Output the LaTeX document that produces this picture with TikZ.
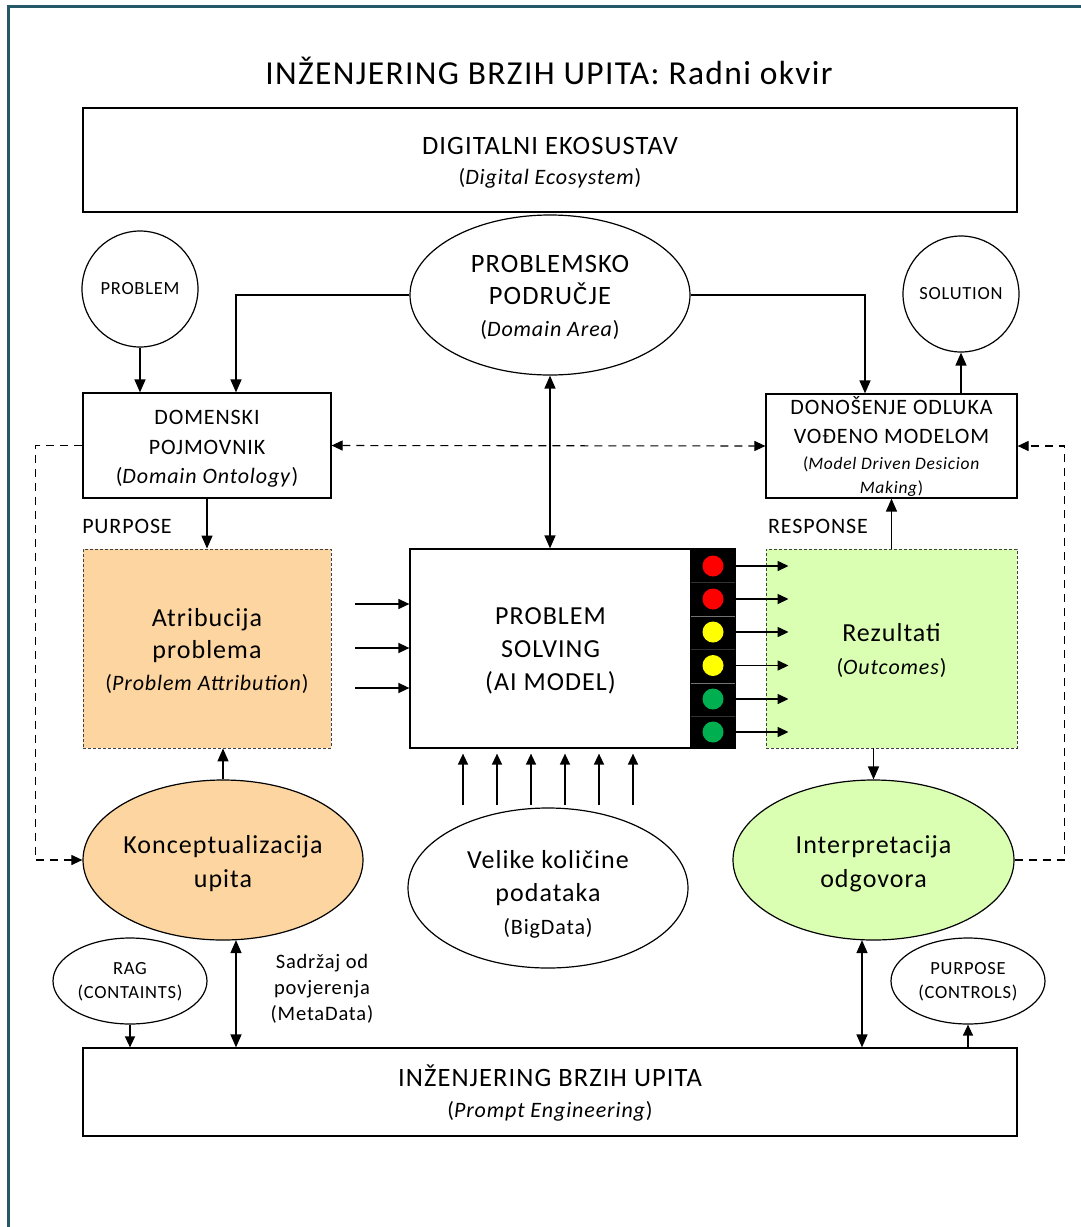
\documentclass[tikz,border=0pt]{standalone}
\usepackage{fontspec}
\setmainfont{Carlito}[LetterSpace=4]
\usetikzlibrary{arrows.meta,shapes.geometric,calc}

\definecolor{framecol}{HTML}{25596A}
\definecolor{peach}{HTML}{FCD5A0}
\definecolor{mint}{HTML}{DAFFB3}
\definecolor{lampred}{HTML}{FF0000}
\definecolor{lampyellow}{HTML}{FFFF00}
\definecolor{lampgreen}{HTML}{00B050}

\newcommand{\subline}[1]{{\fontsize{22}{24}\selectfont#1}}

\tikzset{
  box/.style={draw, line width=1.2pt, rectangle, inner sep=0pt},
  dashbox/.style={draw=black!75, line width=0.9pt, dash pattern=on 3pt off 2pt, rectangle, inner sep=0pt},
  oval/.style={draw, line width=1.2pt, ellipse, inner sep=0pt},
  roundel/.style={draw, line width=1.2pt, circle, inner sep=0pt, align=center},
  lamp/.style={circle, inner sep=0pt, minimum size=21pt},
  tip/.tip={Triangle[length=13pt,width=11pt]},
  smalltip/.tip={Triangle[length=11pt,width=10pt]},
  link/.style={line width=1.4pt, -tip},
  dlink/.style={line width=1.4pt, tip-tip},
  dashlink/.style={line width=1.1pt, dash pattern=on 8pt off 6pt, -smalltip},
  lamplink/.style={line width=1.4pt, -smalltip},
  fA/.style={font=\fontsize{26.5}{32}\selectfont},
  fB/.style={font=\fontsize{22}{29.5}\selectfont},
  fC/.style={font=\fontsize{26}{33}\selectfont},
  fS/.style={font=\fontsize{18.5}{24}\selectfont},
  label/.style={inner sep=0pt, align=center},
}

\begin{document}
\begin{tikzpicture}[x=1pt,y=-1pt]
\useasboundingbox (0,0) rectangle (1081,1227);

% outer frame
\begin{scope}
  \clip (0,0) rectangle (1081,1227);
  \draw[framecol, line width=3pt] (8.5,1240) -- (8.5,6.5) -- (1095,6.5);
\end{scope}

% title
\node[label, font=\fontsize{33.5}{36}\selectfont] (title) at (549,71) {INŽENJERING BRZIH UPITA: Radni okvir};

% top band
\node[box, minimum width=934pt, minimum height=104pt] (eco) at (550,160) {};
\node[label, font=\fontsize{26.5}{30}\selectfont] (eco-t) at ($(eco)+(0,3)$)
  {DIGITALNI EKOSUSTAV\\\subline{(\textit{Digital Ecosystem})}};

% circles and central ellipse
\node[roundel, minimum size=116pt, font=\fontsize{18.5}{20}\selectfont] (prob) at (140,289) {PROBLEM};
\node[roundel, minimum size=116pt, font=\fontsize{18.5}{20}\selectfont] (sol) at (961,294) {SOLUTION};
\node[oval, minimum width=280pt, minimum height=160pt] (pa) at (550,295) {};
\node[label, fA] (pa-t) at ($(pa)+(0,2)$)
  {PROBLEMSKO\\PODRUČJE\\\subline{(\textit{Domain Area})}};

% upper boxes
\node[box, minimum width=248pt, minimum height=105pt] (dom) at (207,445.5) {};
\node[label, fB] (dom-t) at ($(dom)+(0,3.5)$)
  {DOMENSKI\\POJMOVNIK\\(\textit{Domain Ontology})};
\node[box, minimum width=251pt, minimum height=104pt] (don) at (891.5,446) {};
\node[label, font=\fontsize{22}{24}\selectfont] (don-t) at ($(don)+(0,0.5)$)
  {DONOŠENJE ODLUKA\\[5pt]VOĐENO MODELOM\\[2pt]{\fontsize{17.5}{20}\selectfont(\textit{Model Driven Desicion}}\\{\fontsize{17.5}{20}\selectfont\textit{Making})}};

\node[label, font=\fontsize{22}{24}\selectfont] (purpose) at (127,526) {PURPOSE};
\node[label, font=\fontsize{22}{24}\selectfont] (response) at (818,526) {RESPONSE};

% middle row
\node[dashbox, fill=peach, minimum width=248pt, minimum height=199pt] (atr) at (207,648.5) {};
\node[label, font=\fontsize{26}{32}\selectfont] (atr-t) at ($(atr)+(0,2.5)$)
  {Atribucija\\problema\\\subline{(\textit{Problem Attribution})}};
\node[box, minimum width=281pt, minimum height=199pt] (ps) at (550.5,648.5) {};
\node[label, fC] (ps-t) at ($(ps)+(0,2.5)$)
  {PROBLEM\\SOLVING\\(AI MODEL)};
\node[box, fill=black, minimum width=44pt, minimum height=199pt] (lights) at (713,648.5) {};
\node[dashbox, fill=mint, minimum width=251pt, minimum height=199pt] (rez) at (891.5,648.5) {};
\node[label, fC] (rez-t) at ($(rez)+(0,2)$)
  {Rezultati\\\subline{(\textit{Outcomes})}};

% separators in the lamp strip
\foreach \yy/\cc in {582.5/black!80, 616/black!55, 649/black!80, 683/black!55, 716/black!80}
  \draw[\cc, line width=0.6pt] (691,\yy) -- (735,\yy);

% lamps
\node[lamp, fill=lampred]    (l1) at (713,566) {};
\node[lamp, fill=lampred]    (l2) at (713,599) {};
\node[lamp, fill=lampyellow] (l3) at (713,632) {};
\node[lamp, fill=lampyellow] (l4) at (713,665.5) {};
\node[lamp, fill=lampgreen]  (l5) at (713,699) {};
\node[lamp, fill=lampgreen]  (l6) at (713,732) {};

\foreach \n in {l1,l2,l3,l4,l5,l6}
  \draw[lamplink] (lights.east |- \n) -- ($(rez.west |- \n)+(23,0)$);

% inputs into the model
\coordinate (in1) at (355,604);
\coordinate (in2) at (355,648);
\coordinate (in3) at (355,688);
\foreach \c in {in1,in2,in3}
  \draw[lamplink] (\c) -- (ps.west |- \c);

\foreach \xx [count=\i] in {463,497,531,565,599,633}
  \coordinate (d\i) at (\xx,805);
\foreach \i in {1,...,6}
  \draw[lamplink] (d\i) -- ($(d\i |- ps.south)+(0,5)$);

% lower ellipses
\node[oval, fill=peach, minimum width=280pt, minimum height=160pt] (konc) at (223,860) {};
\node[label, font=\fontsize{26}{34}\selectfont] (konc-t) at ($(konc)+(0,3.5)$)
  {Konceptualizacija\\upita};
\node[oval, minimum width=280pt, minimum height=160pt] (big) at (548,888) {};
\node[label, fC] (big-t) at ($(big)+(0,6)$)
  {Velike količine\\podataka\\{\fontsize{22}{24}\selectfont(BigData)}};
\node[oval, fill=mint, minimum width=281pt, minimum height=160pt] (interp) at (873.5,860) {};
\node[label, font=\fontsize{26}{34}\selectfont] (interp-t) at ($(interp)+(0,3.5)$)
  {Interpretacija\\odgovora};

\node[oval, minimum width=154pt, minimum height=86pt] (rag) at (130,981) {};
\node[label, fS] (rag-t) at ($(rag)+(0,1)$) {RAG\\(CONTAINTS)};
\node[oval, minimum width=154pt, minimum height=86pt] (pc) at (968,981) {};
\node[label, fS] (pc-t) at ($(pc)+(0,1)$) {PURPOSE\\(CONTROLS)};

\node[label, font=\fontsize{20.5}{26}\selectfont] (meta) at (322,989)
  {Sadržaj od\\povjerenja\\(MetaData)};

% bottom band
\node[box, minimum width=934pt, minimum height=88pt] (pe) at (550,1092) {};
\node[label, font=\fontsize{26.5}{31}\selectfont] (pe-t) at ($(pe)+(0,1.5)$)
  {INŽENJERING BRZIH UPITA\\\subline{(\textit{Prompt Engineering})}};

% connectors, upper part
\draw[link] (prob.south) -- (prob.south |- dom.north);
\draw[link] (pa.west) -| ($(dom.north)+(29,0)$);
\draw[link] (pa.east) -| ($(don.north)+(-26.5,0)$);
\draw[dlink] (pa.south) -- (pa.south |- ps.north);
\draw[link] (don.north -| sol.south) -- (sol.south);
\draw[line width=1.1pt, dash pattern=on 8pt off 6pt, smalltip-smalltip] (dom.east) -- (don.west);
\draw[dashlink] (dom.west) -- ++(-47,0) |- (konc.west);
\draw[dashlink] (interp.east) -- ++(50,0) |- (don.east);
\draw[link] (dom.south) -- (atr.north);
\draw[link] (rez.north) -- (don.south);

% connectors, lower part
\draw[link] (konc.north) -- (konc.north |- atr.south);
\draw[link] (rez.south -| interp.north) -- (interp.north);
\coordinate (kb) at ($(konc.south)+(13,-0.5)$);
\coordinate (ib) at ($(interp.south)+(-11.5,-0.5)$);
\draw[dlink] (kb) -- (kb |- pe.north);
\draw[dlink] (ib) -- (ib |- pe.north);
\draw[lamplink] (rag.south) -- (rag.south |- pe.north);
\draw[lamplink] (pe.north -| pc.south) -- (pc.south);

\end{tikzpicture}
\end{document}
